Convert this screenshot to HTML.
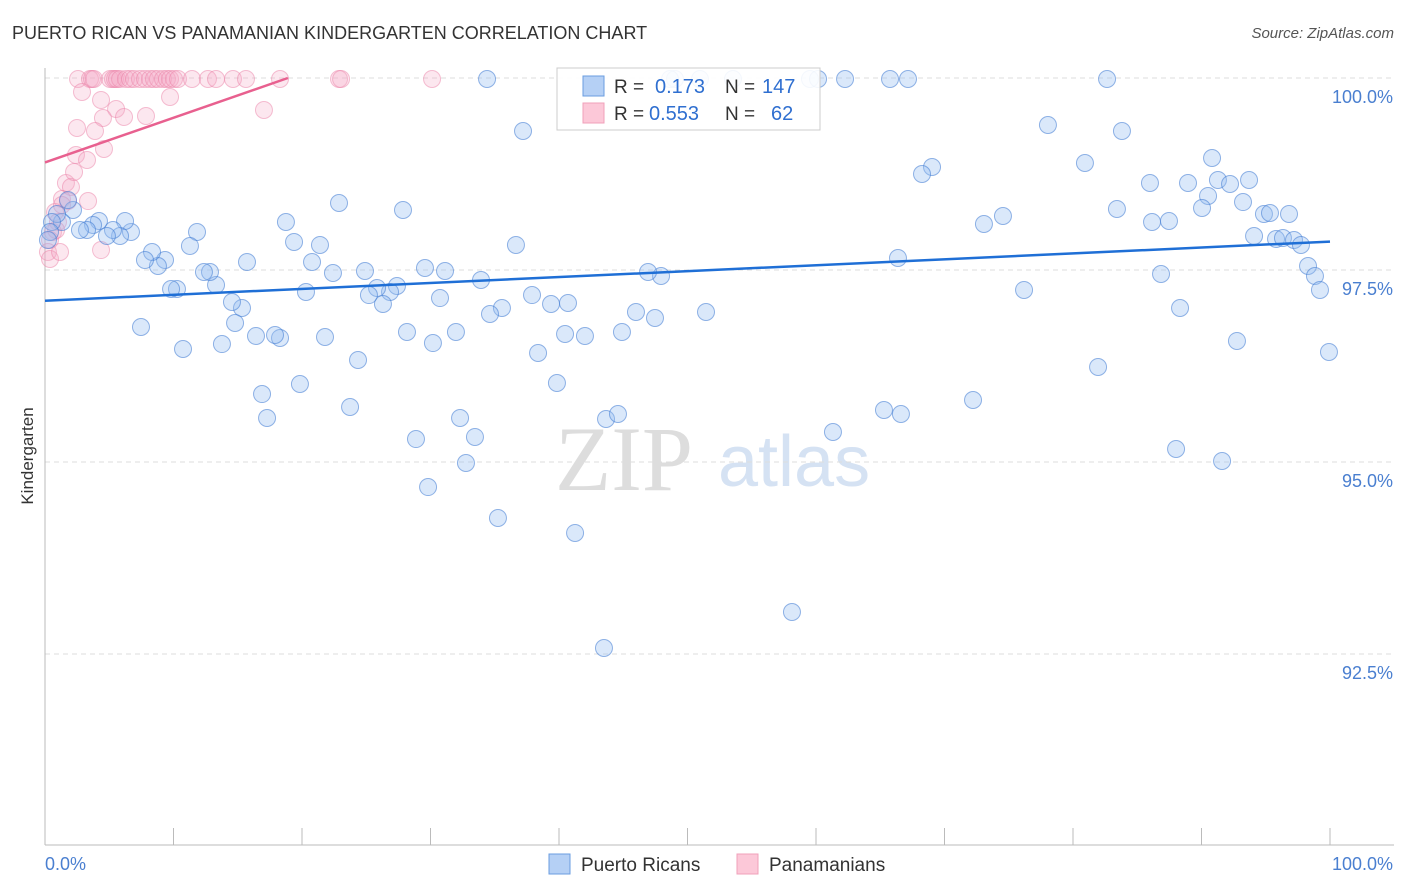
<!DOCTYPE html>
<html><head><meta charset="utf-8"><style>
body{margin:0;background:#fff;font-family:"Liberation Sans",sans-serif;}
#wrap{position:relative;width:1406px;height:892px;overflow:hidden}
.t{position:absolute;white-space:nowrap}
</style></head><body>
<div id="wrap">
<div class="t" style="left:12px;top:23px;font-size:18px;color:#333">PUERTO RICAN VS PANAMANIAN KINDERGARTEN CORRELATION CHART</div>
<div class="t" style="right:12px;top:25px;font-size:15px;color:#555;font-style:italic">Source: ZipAtlas.com</div>
<svg id="svg" width="1406" height="892" style="position:absolute;left:0;top:0"></svg>
</div>
<script>
const yTicks=[100,97.5,95,92.5];
const yTickLabels=["100.0%","97.5%","95.0%","92.5%"];
const xTickLabels=["0.0%","100.0%"];
const seriesNames=["Puerto Ricans","Panamanians"];
const rValues=["0.173","0.553"];
const nValues=["147","62"];
const bluePx=[[487,79],[675,79],[733,79],[810,79],[818,79],[845,79],[890,79],[908,79],[1107,79],[670,79],[700,79],[523,131],[1048,125],[1122,131],[1085,163],[1212,158],[932,167],[922,174],[1150,183],[1188,183],[1218,180],[1230,184],[1249,180],[1208,196],[1243,202],[1117,209],[1202,208],[1003,216],[984,224],[1152,222],[1169,221],[1264,214],[1270,213],[1289,214],[1254,236],[1276,239],[1283,238],[1294,240],[1301,245],[1308,266],[1315,276],[1320,290],[1329,352],[1237,341],[1180,308],[1161,274],[1024,290],[1098,367],[973,400],[1176,449],[1222,461],[898,258],[884,410],[901,414],[833,432],[792,612],[604,648],[575,533],[498,518],[428,487],[466,463],[475,437],[460,418],[416,439],[606,419],[618,414],[557,383],[538,353],[565,334],[585,336],[622,332],[655,318],[636,312],[706,312],[661,276],[648,272],[568,303],[551,304],[532,295],[502,308],[490,314],[481,280],[516,245],[445,271],[425,268],[440,298],[456,332],[433,343],[407,332],[397,286],[390,292],[383,304],[377,288],[369,295],[365,271],[358,360],[350,407],[333,273],[325,337],[320,245],[312,262],[306,292],[300,384],[294,242],[286,222],[280,338],[275,335],[267,418],[262,394],[256,336],[247,262],[242,308],[235,323],[232,302],[222,344],[216,285],[210,272],[204,272],[197,232],[190,246],[183,349],[177,289],[171,289],[165,260],[158,266],[152,252],[145,260],[141,327],[339,203],[403,210],[131,232],[125,221],[120,236],[113,230],[107,236],[99,221],[93,225],[87,230],[80,230],[73,210],[68,200],[62,222],[57,214],[52,222],[50,232],[48,240]];
const pinkPx=[[78,79],[90,79],[92,79],[94,79],[110,79],[113,79],[115,79],[117,79],[120,79],[126,79],[130,79],[134,79],[140,79],[145,79],[150,79],[154,79],[158,79],[163,79],[167,79],[170,79],[174,79],[178,79],[192,79],[208,79],[216,79],[233,79],[246,79],[280,79],[339,79],[341,79],[432,79],[82,92],[101,100],[170,97],[264,110],[116,109],[103,118],[124,117],[146,116],[77,128],[95,131],[104,149],[76,155],[87,160],[66,183],[71,187],[74,172],[62,199],[68,201],[88,201],[55,212],[58,222],[62,205],[53,232],[50,240],[48,252],[50,259],[60,252],[101,250],[56,230]];
const blueX=bluePx.map(p=>+((p[0]-45)/12.85).toFixed(2)), blueY=bluePx.map(p=>+(100-(p[1]-78)/76.8).toFixed(3));
const pinkX=pinkPx.map(p=>+((p[0]-45)/12.85).toFixed(2)), pinkY=pinkPx.map(p=>+(100-(p[1]-78)/76.8).toFixed(3));
const blueTrend=[97.10,97.87];
const pinkTrend=[98.9,100]; const pinkTrendX=[0,18.9];

const X=v=>45+v*12.85, Y=v=>78+(100-v)*76.8;
const NS="http://www.w3.org/2000/svg", svg=document.getElementById('svg');
function mk(t,a){const e=document.createElementNS(NS,t);for(const k in a)e.setAttribute(k,a[k]);svg.appendChild(e);return e;}
let w=mk('text',{x:555,y:490,'font-size':92,fill:'#ddd','font-family':'Liberation Serif, serif'});w.textContent='ZIP';


w=mk('text',{x:718,y:486,'font-size':72,fill:'#d5e2f3','font-family':'Liberation Sans, sans-serif'});w.textContent='atlas';


yTicks.forEach((t,i)=>{
 const g=mk('line',{x1:45,x2:1394,y1:Y(t),y2:Y(t),stroke:'#ddd','stroke-dasharray':'5,4'});
 
 
 const l=mk('text',{x:1393,y:Y(t)+25,'text-anchor':'end','font-size':18,fill:'#4a7fd0'});l.textContent=yTickLabels[i];
 
 
});
let a=mk('line',{x1:45,x2:45,y1:68,y2:845,stroke:'#bbb'});


a=mk('line',{x1:45,x2:1394,y1:845,y2:845,stroke:'#bbb'});


for(let i=0;i<=10;i++){const tk=mk('line',{x1:X(i*10),x2:X(i*10),y1:828,y2:845,stroke:'#bbb'});
 
 }
let xl=mk('text',{x:45,y:870,'font-size':18,fill:'#4a7fd0'});xl.textContent=xTickLabels[0];


xl=mk('text',{x:1393,y:870,'font-size':18,fill:'#4a7fd0','text-anchor':'end'});xl.textContent=xTickLabels[1];


let yt=mk('text',{x:33,y:456,'font-size':17,fill:'#333','text-anchor':'middle',transform:'rotate(-90 33 456)'});yt.textContent='Kindergarten';


pinkX.forEach((x,i)=>{const c=mk('circle',{cx:X(x),cy:Y(pinkY[i]),r:8.5,fill:'rgba(246,170,196,0.28)',stroke:'rgba(236,130,168,0.5)','stroke-width':1});
 
 });
blueX.forEach((x,i)=>{const c=mk('circle',{cx:X(x),cy:Y(blueY[i]),r:8.5,fill:'rgba(150,190,240,0.35)',stroke:'rgba(60,120,210,0.55)','stroke-width':1});
 
 });
let tl=mk('line',{x1:X(0),y1:Y(blueTrend[0]),x2:X(100),y2:Y(blueTrend[1]),stroke:'#1f6fd6','stroke-width':2.5});


tl=mk('line',{x1:X(pinkTrendX[0]),y1:Y(pinkTrend[0]),x2:X(pinkTrendX[1]),y2:Y(pinkTrend[1]),stroke:'#e8608f','stroke-width':2.5});


let lb=mk('rect',{x:557,y:68,width:263,height:62,fill:'rgba(255,255,255,0.9)',stroke:'#ccc'});


[['#b5d0f5','#6a9de0',0],['#fcc8d8','#f0a0ba',1]].forEach(([f,s,i])=>{
 const y=76+i*27;
 const r=mk('rect',{x:583,y:y,width:21,height:20,fill:f,stroke:s});
 
 
 const t1=mk('text',{x:614,y:y+17,'font-size':19,fill:'#333'});t1.textContent='R =';
 
 
 const t2=mk('text',{x:i==0?655:649,y:y+17,'font-size':20,fill:'#2f6fd0'});t2.textContent=rValues[i];
 
 
 const t3=mk('text',{x:725,y:y+17,'font-size':19,fill:'#333'});t3.textContent='N =';
 
 
 const t4=mk('text',{x:i==0?762:771,y:y+17,'font-size':20,fill:'#2f6fd0'});t4.textContent=nValues[i];
 
 
});
[['#b5d0f5','#6a9de0',549],['#fcc8d8','#f0a0ba',737]].forEach(([f,s,x],i)=>{
 const r=mk('rect',{x:x,y:854,width:21,height:20,fill:f,stroke:s});
 
 
 const t=mk('text',{x:x+32,y:871,'font-size':19,fill:'#333'});t.textContent=seriesNames[i];
 
 
});
</script>
</body></html>
